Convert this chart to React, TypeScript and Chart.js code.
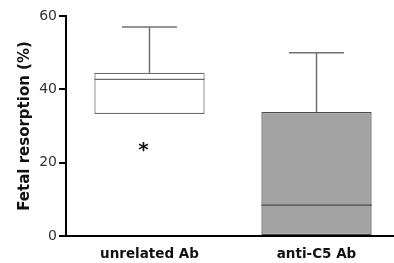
import React, { useEffect, useRef } from 'react';
import { Chart, registerables } from 'chart.js';

Chart.register(...registerables);

const categories = ['unrelated Ab', 'anti-C5 Ab'];
const q1 = [33.3, 0];
const median = [42.7, 8.4];
const q3 = [44.5, 33.8];
const whiskerMin = [33.3, 0];
const whiskerMax = [57, 50];
const markers = [24, null]; // "*" annotation
const yTicks = [0, 20, 40, 60];
const boxFills = ['#ffffff', '#a3a3a3'];
const boxBorders = ['#6a6a6a', '#4a4a4a'];

const FONT = "'DejaVu Sans', 'Liberation Sans', Arial, sans-serif";

const boxExtras = {
  id: 'boxExtras',
  afterDatasetsDraw(chart: any) {
    const { ctx } = chart;
    const yScale = chart.scales.y;
    const meta = chart.getDatasetMeta(0);
    const line = (x1: number, y1: number, x2: number, y2: number) => {
      ctx.beginPath();
      ctx.moveTo(x1, y1);
      ctx.lineTo(x2, y2);
      ctx.stroke();
    };
    meta.data.forEach((bar: any, i: number) => {
      const { x, width } = bar.getProps(['x', 'width'], true);
      const half = width / 2;
      ctx.save();
      // whiskers
      ctx.strokeStyle = '#707070';
      ctx.lineWidth = 1.5;
      const yQ3 = yScale.getPixelForValue(q3[i]);
      const yMax = yScale.getPixelForValue(whiskerMax[i]);
      if (whiskerMax[i] > q3[i]) {
        line(x, yQ3, x, yMax);
        line(x - half / 2, yMax, x + half / 2, yMax);
      }
      const yQ1 = yScale.getPixelForValue(q1[i]);
      const yMin = yScale.getPixelForValue(whiskerMin[i]);
      if (whiskerMin[i] < q1[i]) {
        line(x, yQ1, x, yMin);
        line(x - half / 2, yMin, x + half / 2, yMin);
      }
      // median
      ctx.strokeStyle = boxBorders[i];
      ctx.lineWidth = 1.2;
      const yMed = yScale.getPixelForValue(median[i]);
      line(x - half, yMed, x + half, yMed);
      // marker
      const m = markers[i];
      if (m !== null && m !== undefined) {
        const size = 20;
        ctx.fillStyle = '#111';
        ctx.font = `bold ${size}px ${FONT}`;
        ctx.textAlign = 'center';
        ctx.textBaseline = 'alphabetic';
        ctx.fillText('*', x - 6, yScale.getPixelForValue(m) + 0.42 * size);
      }
      ctx.restore();
    });
  },
};

export default function App() {
  const ref = useRef<HTMLCanvasElement | null>(null);
  useEffect(() => {
    document.body.style.margin = '0';
    const canvas = ref.current;
    if (!canvas) return;
    const chart = new Chart(canvas, {
      type: 'bar',
      data: {
        labels: categories,
        datasets: [
          {
            data: categories.map((_, i) => [q1[i], q3[i]]) as any,
            backgroundColor: boxFills,
            borderColor: boxBorders,
            borderWidth: 1.2,
            borderSkipped: false,
            categoryPercentage: 1,
            barPercentage: 0.66,
          },
        ],
      },
      options: {
        animation: false,
        responsive: false,
        maintainAspectRatio: false,
        events: [],
        layout: { padding: { top: 16, right: 0, left: 0, bottom: 0 } },
        plugins: { legend: { display: false }, tooltip: { enabled: false } },
        scales: {
          x: {
            grid: { display: false, drawTicks: false },
            border: { display: true, color: '#000', width: 2 },
            ticks: {
              color: '#111',
              font: { family: FONT, size: 13.5, weight: 'bold' },
              padding: 10,
            },
            afterFit: (s: any) => {
              s.height = 27;
            },
          },
          y: {
            min: 0,
            max: 60,
            afterBuildTicks: (s: any) => {
              s.ticks = yTicks.map((v) => ({ value: v }));
            },
            grid: {
              display: true,
              drawOnChartArea: false,
              drawTicks: true,
              tickLength: 7,
              color: '#000',
              lineWidth: 2,
            },
            border: { display: true, color: '#000', width: 2 },
            ticks: {
              color: '#333',
              font: { family: FONT, size: 14 },
              padding: 2,
            },
            title: {
              display: true,
              text: 'Fetal resorption (%)',
              color: '#111',
              font: { family: FONT, size: 15, weight: 'bold' },
              padding: { top: 16, bottom: 0 },
            },
            afterFit: (s: any) => {
              s.width = 66;
            },
          },
        },
      },
      plugins: [boxExtras],
    });
    return () => chart.destroy();
  }, []);
  return (
    <div style={{ width: 394, height: 263, overflow: 'hidden' }}>
      <canvas ref={ref} width={400} height={263} style={{ display: 'block' }} />
    </div>
  );
}
